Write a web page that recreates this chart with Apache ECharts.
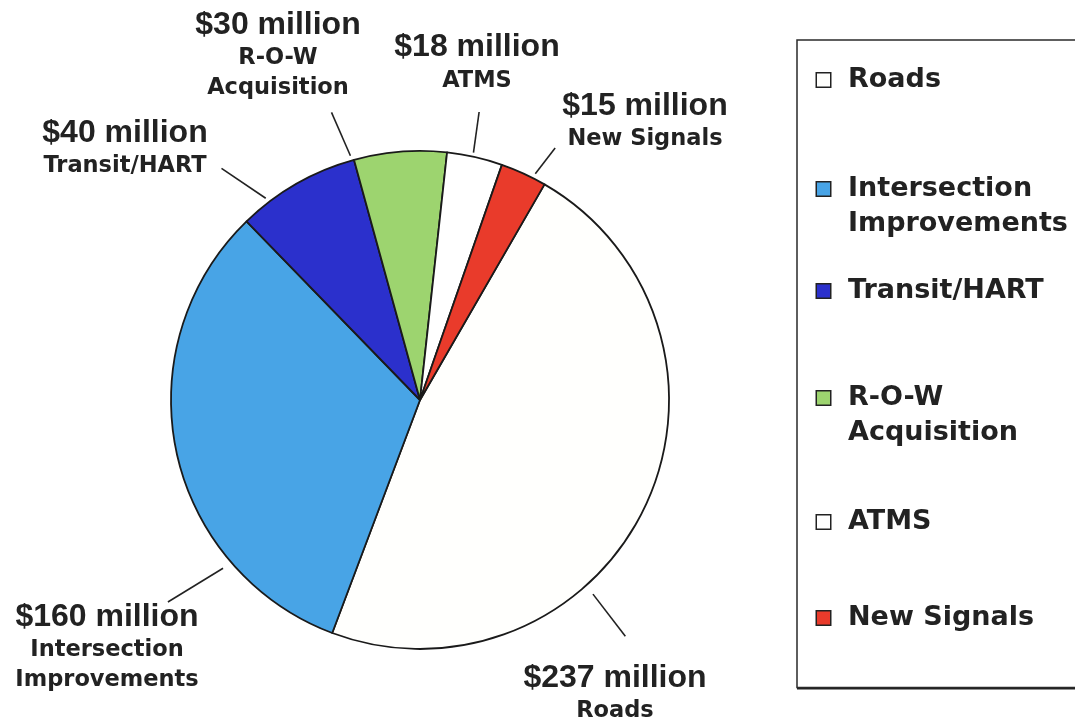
<!DOCTYPE html>
<html>
<head>
<meta charset="utf-8">
<script src="https://cdn.jsdelivr.net/npm/echarts@6/dist/echarts.min.js"></script>
<style>
  html, body { margin: 0; padding: 0; background: #ffffff; }
  #chart { width: 1075px; height: 724px; }
</style>
</head>
<body>
<div id="chart"></div>
<script>
// ---- data ----
const categories = ['Roads', 'Intersection Improvements', 'Transit/HART', 'R-O-W Acquisition', 'ATMS', 'New Signals'];
const values = [237, 160, 40, 30, 18, 15];
const sliceLabelLines = [['Roads'], ['Intersection', 'Improvements'], ['Transit/HART'], ['R-O-W', 'Acquisition'], ['ATMS'], ['New Signals']];
const legendLines = [['Roads'], ['Intersection', 'Improvements'], ['Transit/HART'], ['R-O-W', 'Acquisition'], ['ATMS'], ['New Signals']];

// ---- styles / layout ----
const colors = ['#fffffd', '#48a4e6', '#2b30cc', '#9dd46f', '#ffffff', '#e93b2b'];
const PIE_C = [420, 400];
const PIE_R = 249;
// leader line: [start angle (clockwise from 12 o'clock), start gap from rim, end angle, end gap from rim]
const LEADER = [
  [138.3, 11, 139.0, 64],
  [229.5, 10, 231.3, 74],
  [322.6, 5, 319.4, 56],
  [344.1, 5, 342.9, 52],
  [12.2, 4, 11.6, 45],
  [27.0, 5, 28.2, 37]
];
// label anchor: [center x, top y]
const LABEL_AT = [[615, 659.5], [107, 598.5], [125, 114.5], [278, 6.5], [477, 29], [645, 87.5]];
// vertical step of each legend entry
const LEGEND_STEP = [113, 106, 111, 128, 100, 35];
const LEG_LH = 35;

const legendRich = {
  t: { fontFamily: 'DejaVu Sans', fontWeight: 'bold', fontSize: 27, color: '#222', lineHeight: LEG_LH, padding: [0, 0, 0, 18] },
  sp: { width: 13, height: 13, lineHeight: LEG_LH }
};
colors.forEach((c, i) => {
  legendRich['k' + i] = { width: 13, height: 13, backgroundColor: c, borderColor: '#222', borderWidth: 1.5, lineHeight: LEG_LH };
});
legendLines.forEach((lines, i) => {
  const rest = LEGEND_STEP[i] - lines.length * LEG_LH;
  if (rest > 0) legendRich['f' + i] = { fontSize: 1, height: rest, lineHeight: rest };
});

const chart = echarts.init(document.getElementById('chart'), null, { renderer: 'canvas' });

const option = {
  animation: false,
  backgroundColor: '#ffffff',
  color: colors,
  graphic: [{
    // heavy lower edge of the legend frame
    type: 'rect',
    left: 797,
    top: 686,
    shape: { width: 290, height: 3.5 },
    style: { fill: '#222' },
    silent: true
  }],
  legend: {
    orient: 'vertical',
    left: 797,
    top: 40,
    icon: 'none',
    itemWidth: 0,
    itemHeight: 0,
    itemGap: 0,
    selectedMode: false,
    padding: [26.5, 60, 56, 15],
    borderColor: '#2a2a2a',
    borderWidth: 1.5,
    backgroundColor: '#ffffff',
    data: categories,
    textStyle: { rich: legendRich },
    formatter: function (name) {
      const i = categories.indexOf(name);
      const lines = legendLines[i];
      let s = '{k' + i + '|}{t|' + lines[0] + '}';
      for (let j = 1; j < lines.length; j++) s += '\n{sp|}{t|' + lines[j] + '}';
      if (legendRich['f' + i]) s += '\n{f' + i + '| }';
      return s;
    }
  },
  series: [{
    type: 'pie',
    center: PIE_C,
    radius: PIE_R,
    startAngle: 60,
    clockwise: true,
    avoidLabelOverlap: false,
    minShowLabelAngle: 0,
    silent: true,
    emphasis: { disabled: true, scale: false },
    itemStyle: { borderColor: '#1a1a1a', borderWidth: 1.8 },
    data: categories.map((n, i) => ({ name: n, value: values[i] })),
    label: {
      show: true,
      position: 'outside',
      color: '#222',
      formatter: function (p) {
        const i = p.dataIndex;
        return '{v|$' + p.value + ' million}\n' + sliceLabelLines[i].map(s => '{n|' + s + '}').join('\n');
      },
      rich: {
        v: { fontFamily: 'Liberation Sans', fontWeight: 'bold', fontSize: 32, lineHeight: 37, color: '#222' },
        n: { fontFamily: 'DejaVu Sans', fontWeight: 'bold', fontSize: 22.5, lineHeight: 30, color: '#222' }
      }
    },
    labelLine: {
      show: true,
      length: 20,
      length2: 0,
      lineStyle: { color: '#222', width: 1.6 }
    },
    labelLayout: function (p) {
      const i = p.dataIndex;
      const L = LEADER[i];
      const pt = (deg, r) => {
        const a = deg * Math.PI / 180;
        return [PIE_C[0] + r * Math.sin(a), PIE_C[1] - r * Math.cos(a)];
      };
      return {
        x: LABEL_AT[i][0],
        y: LABEL_AT[i][1],
        align: 'center',
        verticalAlign: 'top',
        labelLinePoints: [pt(L[0], PIE_R + L[1]), pt(L[2], PIE_R + L[3])]
      };
    }
  }]
};
chart.setOption(option);
</script>
</body>
</html>
